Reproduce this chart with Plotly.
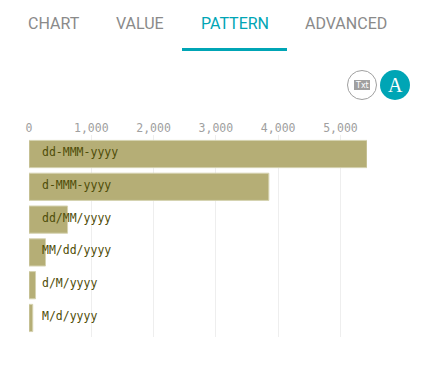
import plotly.graph_objects as go

patterns = ["dd-MMM-yyyy", "d-MMM-yyyy", "dd/MM/yyyy", "MM/dd/yyyy", "d/M/yyyy", "M/d/yyyy"]
counts = [5426, 3850, 619, 265, 105, 60]
tabs = ["CHART", "VALUE", "PATTERN", "ADVANCED"]
tab_colors = ["#8a8a8a", "#8a8a8a", "#00a5b5", "#8a8a8a"]
tab_centers = [54, 140, 235, 346]

W, H = 424, 371
L, R, T, B = 29, 367, 135, 337
pw, ph = R - L, B - T


def px(x):
    return (x - L) / pw


def py(y):
    return 1 - (y - T) / ph


fig = go.Figure(
    go.Bar(
        y=list(range(len(patterns))),
        x=counts,
        orientation="h",
        width=0.83,
        marker=dict(color="#b5ae76", line=dict(color="#d5d2b0", width=1)),
        hoverinfo="skip",
    )
)

annotations = []
for i, p in enumerate(patterns):
    annotations.append(
        dict(
            x=0, y=i, xref="x", yref="y", text=p, showarrow=False, xanchor="left",
            xshift=10.5, yshift=2,
            font=dict(family="DejaVu Sans Mono", size=11.5, color="#4f4d08"),
        )
    )

for t, c, x in zip(tabs, tab_colors, tab_centers):
    annotations.append(
        dict(
            x=px(x), y=py(24), xref="paper", yref="paper", text=t, showarrow=False,
            xanchor="center", yanchor="middle",
            font=dict(family="Roboto", size=16, color=c),
        )
    )
annotations.append(
    dict(x=px(362), y=py(85), xref="paper", yref="paper", text="Txt", showarrow=False,
         xanchor="center", yanchor="middle",
         font=dict(family="DejaVu Sans", size=8, color="white"))
)
annotations.append(
    dict(x=px(395), y=py(85), xref="paper", yref="paper", text="A", showarrow=False,
         xanchor="center", yanchor="middle",
         font=dict(family="Liberation Serif", size=20, color="white"))
)

shapes = [
    dict(type="rect", xref="paper", yref="paper", x0=px(182), x1=px(287), y0=py(48), y1=py(51),
         fillcolor="#00a5b5", line=dict(width=0), layer="above"),
    dict(type="circle", xref="paper", yref="paper", x0=px(347.5), x1=px(376.5), y0=py(70.5), y1=py(99.5),
         fillcolor="white", line=dict(color="#a0a0a0", width=1), layer="below"),
    dict(type="rect", xref="paper", yref="paper", x0=px(354), x1=px(370), y0=py(80), y1=py(90),
         fillcolor="#a0a0a0", line=dict(width=0), layer="below"),
    dict(type="circle", xref="paper", yref="paper", x0=px(380), x1=px(410), y0=py(70), y1=py(100),
         fillcolor="#00a5b5", line=dict(width=0), layer="below"),
]

fig.update_layout(
    width=W, height=H,
    margin=dict(l=L, r=W - R, t=T, b=H - B, pad=0),
    paper_bgcolor="white", plot_bgcolor="white",
    showlegend=False,
    annotations=annotations, shapes=shapes,
    xaxis=dict(
        side="top", range=[0, counts[0]], tick0=0, dtick=1000, tickformat=",",
        showgrid=True, gridcolor="#eeeeee", gridwidth=1, zeroline=False, showline=False,
        ticks="", tickfont=dict(family="DejaVu Sans Mono", size=11.5, color="#a0a0a0"),
    ),
    yaxis=dict(range=[5.58, -0.58], showticklabels=False, showgrid=False, zeroline=False, ticks=""),
)
fig.write_html("out.html", config=dict(displayModeBar=False), post_script="document.body.style.margin='0';")
